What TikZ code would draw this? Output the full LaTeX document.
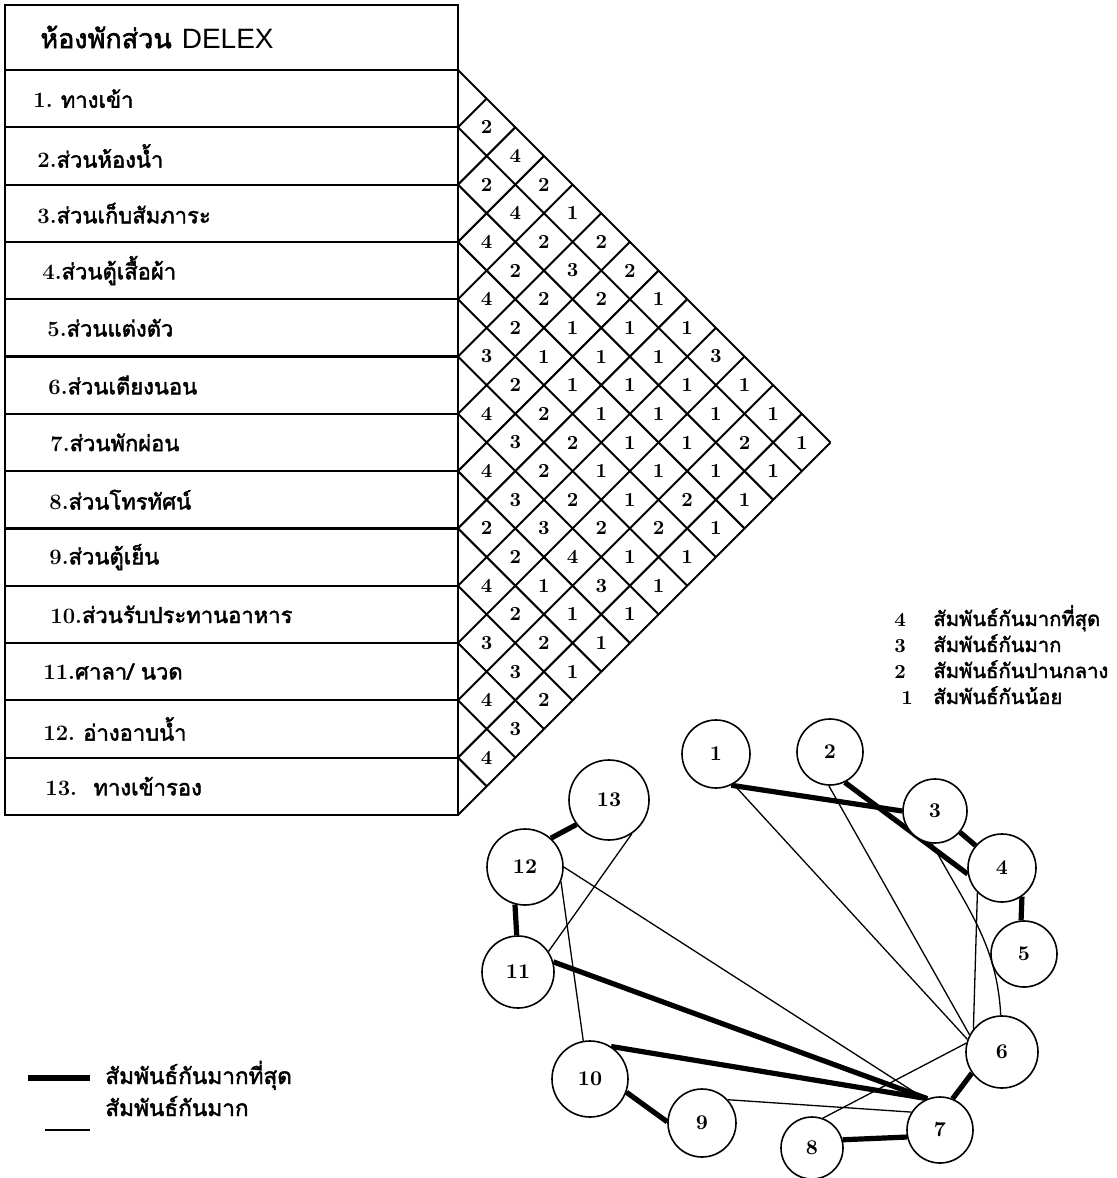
\documentclass[tikz,border=0pt]{standalone}
\usepackage{fontspec}
\newfontfamily\thaifont[Script=Thai, FakeBold=2]{Loma}
\newfontfamily\headfont{Liberation Sans}
\newcommand{\rowh}{57.3}
\pgfdeclarelayer{bg}
\pgfsetlayers{bg,main}

\begin{document}
\begin{tikzpicture}[
    x=0.5pt, y=-0.5pt,
    rowbox/.style={draw, line width=1.1pt, minimum width=226.5pt, minimum height=28.65pt, inner sep=0pt, outer sep=0pt},
    rowtext/.style={anchor=west, inner sep=0pt, font=\fontsize{11}{12}\selectfont},
    grid/.style={line width=1pt},
    cellnum/.style={inner sep=0pt, font=\fontsize{10}{10}\selectfont\bfseries},
    room/.style={circle, draw, line width=0.8pt, fill=white, inner sep=0pt, font=\fontsize{10.5}{11}\selectfont\bfseries},
    strong/.style={line width=2.6pt},
    weak/.style={line width=0.65pt},
    keytext/.style={anchor=base west, inner sep=0pt, font=\fontsize{10.1}{12}\selectfont}
]
\useasboundingbox (0,0) rectangle (1117,1178);

% Table
\node[rowbox, minimum height=32.5pt] (head) at (231.5,37.5) {};
\node[anchor=west, inner sep=0pt] (headtext) at (40,37)
    {{\fontsize{13.5}{14}\selectfont\thaifont ห้องพักส่วน}\hspace{5pt}{\fontsize{14}{14}\selectfont\headfont DELEX}};

\foreach \k/\num/\txt/\xs in {
    1/{1.\ }/{ทางเข้า}/33,
    2/{2.}/{ส่วนห้องน้ำ}/37,
    3/{3.}/{ส่วนเก็บสัมภาระ}/37,
    4/{4.}/{ส่วนตู้เสื้อผ้า}/42,
    5/{5.}/{ส่วนแต่งตัว}/47,
    6/{6.}/{ส่วนเตียงนอน}/48,
    7/{7.}/{ส่วนพักผ่อน}/50,
    8/{8.}/{ส่วนโทรทัศน์}/49,
    9/{9.}/{ส่วนตู้เย็น}/49,
    10/{10.}/{ส่วนรับประทานอาหาร}/50,
    11/{11.}/{ศาลา/ นวด}/43,
    12/{12.\ }/{อ่างอาบน้ำ}/43,
    13/{13.\ \ }/{ทางเข้ารอง}/45}{
    \node[rowbox] (r\k) at (231.5, {70+(\k-0.5)*\rowh}) {};
    \node[rowtext] (t\k) at (\xs, {70+(\k-0.5)*\rowh}) {\textbf{\num}{\thaifont\txt}};
}

% Relation matrix
\foreach \k in {0,...,13}{
    \pgfmathsetmacro{\yk}{70+\k*\rowh}
    \pgfmathsetmacro{\dn}{(13-\k)*\rowh/2}
    \pgfmathsetmacro{\up}{\k*\rowh/2}
    \draw[grid] (458,\yk) -- ++(\dn,\dn) (458,\yk) -- ++(\up,-\up);
}

\foreach \i/\vals in {
    1/{2,4,2,1,2,2,1,1,3,1,1,1},
    2/{2,4,2,3,2,1,1,1,1,2,1},
    3/{4,2,2,1,1,1,1,1,1,1},
    4/{4,2,1,1,1,1,1,2,1},
    5/{3,2,2,2,1,1,2,1},
    6/{4,3,2,2,2,1,1},
    7/{4,3,3,4,3,1},
    8/{2,2,1,1,1},
    9/{4,2,2,1},
    10/{3,3,2},
    11/{4,3},
    12/{4}}{
    \foreach \v [count=\d] in \vals
        \node[cellnum] (c\i-\d) at ({458+\d*\rowh/2}, {70+(2*\i+\d-1)*\rowh/2}) {\v};
}

% Key of the matrix
\foreach \v/\vx/\txt [count=\k] in {4/900/{สัมพันธ์กันมากที่สุด}, 3/900/{สัมพันธ์กันมาก}, 2/900/{สัมพันธ์กันปานกลาง}, 1/907/{สัมพันธ์กันน้อย}}{
    \node[cellnum, anchor=base] (kn\k) at (\vx, {626+(\k-1)*26}) {\v};
    \node[keytext] (kt\k) at (933, {626+(\k-1)*26}) {\thaifont\txt};
}

% Bubble diagram
\foreach \n/\px/\py/\rr in {1/716/754/34, 2/830/752/33, 3/935/811/32, 4/1002/868/34, 5/1024/954/33,
    6/1002/1052/36, 7/940/1130/33, 8/812/1148/31, 9/702/1123/34, 10/590/1079/38,
    11/518/972/36, 12/525/867/38, 13/609/800/40}
    \node[room, minimum size={\rr*1pt}] (n\n) at (\px,\py) {\n};

\begin{pgfonlayer}{bg}
% most related
\draw[strong] (n1.-64) -- (n3.180);
\draw[strong] (n2.-64) -- (n4.190);
\draw[strong] (n3) -- (n4);
\draw[strong] (n4.-55) -- (n5.95);
\draw[strong] (n6.215) -- (n7.68);
\draw[strong] (n8.15) -- (n7.192);
\draw[strong] (n10.-20) -- (n9.178);
\draw[strong] (n10.57) -- (n7.112);
\draw[strong] (n11.16) -- (n7.112);
\draw[strong] (n12.-105) -- (n11.92);
\draw[strong] (n12.48) -- (n13.217);
% related
\draw[weak] (n1.-60) -- (n6.160);
\draw[weak] (n2.-92) -- (n6.152);
\draw[weak] (n3.265) .. controls (966,907) and (997,943) .. (n6.92);
\draw[weak] (n4.225) -- (n6.141);
\draw[weak] (n6.166) -- (n8.70);
\draw[weak] (n9.42) -- (n7.148);
\draw[weak] (n12.0) -- (n7.115);
\draw[weak] (n12.-22) -- (n10.100);
\draw[weak] (n13.-56) -- (n11.34);
\end{pgfonlayer}

% Key of the lines
\node[keytext, font=\fontsize{11.3}{12}\selectfont] (lk1) at (105,1084) {\thaifont สัมพันธ์กันมากที่สุด};
\node[keytext, font=\fontsize{11.3}{12}\selectfont] (lk2) at (105,1116) {\thaifont สัมพันธ์กันมาก};
\coordinate (s1) at (28,1078);
\coordinate (s2) at (45,1130);
\draw[strong] (s1) -- ++(62,0);
\draw[weak] (s2) -- ++(45,0);

\end{tikzpicture}
\end{document}
